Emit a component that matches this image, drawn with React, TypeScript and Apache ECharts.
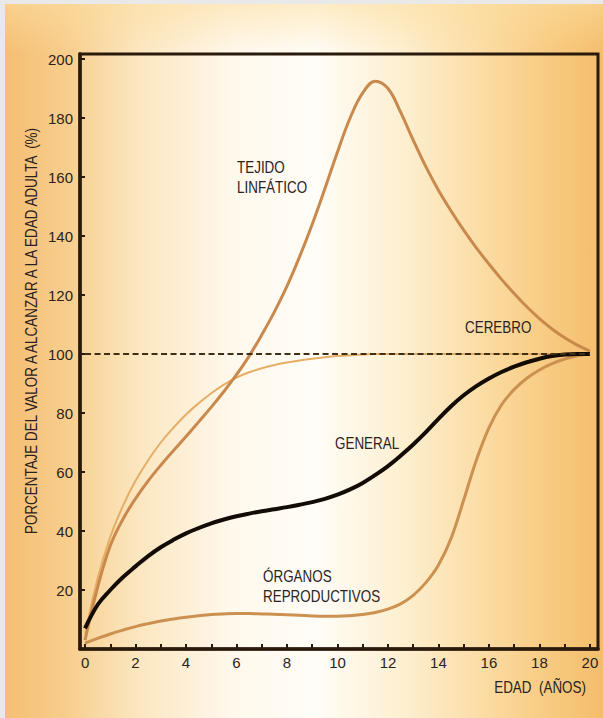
import React, { useEffect, useRef } from "react";
import * as echarts from "echarts";

// ---- data ----
const ages = [
  0, 0.5, 1, 1.5, 2, 2.5, 3, 3.5, 4, 4.5, 5, 5.5, 6, 6.5, 7, 7.5, 8, 8.5, 9, 9.5, 10,
  10.5, 11, 11.5, 12, 12.5, 13, 13.5, 14, 14.5, 15, 15.5, 16, 16.5, 17, 17.5, 18, 18.5, 19, 19.5, 20,
];
const xTickLabels = [0, 2, 4, 6, 8, 10, 12, 14, 16, 18, 20];
const xTickMarks = [0, 1, 2, 3, 4, 5, 6, 7, 8, 9, 10, 11, 12, 13, 14, 15, 16, 17, 18, 19, 20];
const yTickLabels = [20, 40, 60, 80, 100, 120, 140, 160, 180, 200];
const yTickMarks = [0, 20, 40, 60, 80, 100, 120, 140, 160, 180, 200];

const valLinfatico = [
  3, 21, 35, 44, 51, 57, 62.3, 67.2, 72, 77, 82, 87.3, 93, 99.3, 106.5, 114.3, 123, 133, 144, 156, 168.5,
  180, 188.5, 192.5, 190, 182, 172.5, 163.5, 155.5, 148.5, 142, 136, 130.5, 125.3, 120.5, 116, 112, 108.5, 105.5, 103, 101,
];
const valCerebro = [
  5, 24, 38, 48.5, 57, 64, 70, 75, 79.5, 83.3, 86.7, 89.6, 92, 93.8, 95.2, 96.3, 97.1, 97.8, 98.4, 98.9, 99.3,
  99.6, 99.8, 100, 100, 100, 100, 100, 100, 100, 100, 100, 100, 100, 100, 100, 100, 100, 100, 100, 100,
];
const valGeneral = [
  7, 15, 20, 24.3, 28, 31.5, 34.5, 37, 39.2, 41, 42.6, 43.9, 45, 45.9, 46.7, 47.4, 48.1, 48.9, 49.8, 50.9, 52.3,
  54.1, 56.3, 59, 62, 65.5, 69.3, 73.5, 78, 82.3, 86, 89.1, 91.7, 93.9, 95.7, 97.2, 98.4, 99.3, 99.8, 100, 100,
];
const valReproductivo = [
  2, 3.6, 5.1, 6.4, 7.6, 8.6, 9.5, 10.2, 10.8, 11.3, 11.7, 11.9, 12, 12, 11.9, 11.8, 11.6, 11.4, 11.2, 11.1, 11.1,
  11.3, 11.7, 12.4, 13.5, 15.3, 18.2, 22.5, 28.5, 37.5, 50.5, 64, 75, 82.8, 88, 91.8, 94.6, 96.7, 98.3, 99.4, 100,
];

const adultAges = [0, 20];
const adultVals = [100, 100];

const zip = (a: number[], b: number[]) => a.map((v, i) => [v, b[i]]);

const FONT = '"Liberation Sans", Arial, sans-serif';
const TXT = "#2a231d";
const AXIS = "#2a1a0c";
const SX = 0.84;

export default function App() {
  const ref = useRef<HTMLDivElement>(null);
  useEffect(() => {
    document.body.style.margin = "0";
    const chart = echarts.init(ref.current!, undefined, { renderer: "svg" });
    const label = (text: string, x: number, y: number, align = "left") => ({
      type: "text",
      x,
      y,
      scaleX: SX,
      style: {
        text,
        fill: TXT,
        font: `16px ${FONT}`,
        lineHeight: 20,
        textAlign: align,
        textVerticalAlign: "middle",
      },
    });
    chart.setOption({
      animation: false,
      backgroundColor: "transparent",
      grid: {
        left: 80,
        top: 54,
        width: 518,
        height: 595,
        show: true,
        borderColor: AXIS,
        borderWidth: 3,
        backgroundColor: "transparent",
      },
      xAxis: {
        type: "value",
        min: -0.2,
        max: 20.32,
        splitLine: { show: false },
        axisLine: { show: true, onZero: false, lineStyle: { color: AXIS, width: 3.5 } },
        axisTick: {
          show: true,
          inside: true,
          length: 5,
          customValues: xTickMarks,
          lineStyle: { color: AXIS, width: 2 },
        },
        axisLabel: {
          customValues: xTickLabels,
          fontSize: 15,
          color: TXT,
          fontFamily: FONT,
          margin: 6,
        },
      },
      yAxis: {
        type: "value",
        min: 0,
        max: 201.7,
        splitLine: { show: false },
        axisLine: { show: true, onZero: false, lineStyle: { color: AXIS, width: 3.5 } },
        axisTick: {
          show: true,
          inside: true,
          length: 5,
          customValues: yTickMarks,
          lineStyle: { color: AXIS, width: 2 },
        },
        axisLabel: {
          customValues: yTickLabels,
          fontSize: 15,
          color: TXT,
          fontFamily: FONT,
          margin: 7,
        },
      },
      series: [
        {
          name: "Adulto",
          type: "line",
          data: zip(adultAges, adultVals),
          showSymbol: false,
          lineStyle: { color: "#3f2f14", width: 2.2, type: [6, 3.5] },
          z: 5,
        },
        {
          name: "Cerebro",
          type: "line",
          data: zip(ages, valCerebro),
          smooth: 0.4,
          showSymbol: false,
          lineStyle: { color: "#e6ad66", width: 2 },
          z: 2,
        },
        {
          name: "Tejido linfático",
          type: "line",
          data: zip(ages, valLinfatico),
          smooth: 0.4,
          showSymbol: false,
          lineStyle: { color: "#c9894c", width: 3 },
          z: 3,
        },
        {
          name: "Órganos reproductivos",
          type: "line",
          data: zip(ages, valReproductivo),
          smooth: 0.4,
          showSymbol: false,
          lineStyle: { color: "#cc9150", width: 3 },
          z: 3,
        },
        {
          name: "General",
          type: "line",
          data: zip(ages, valGeneral),
          smooth: 0.4,
          showSymbol: false,
          lineStyle: { color: "#130b05", width: 4 },
          z: 4,
        },
      ],
      graphic: [
        {
          type: "text",
          x: 32,
          y: 331,
          rotation: Math.PI / 2,
          scaleX: SX,
          style: {
            text: "PORCENTAJE DEL VALOR A ALCANZAR A LA EDAD ADULTA  (%)",
            fill: TXT,
            font: `16px ${FONT}`,
            textAlign: "center",
            textVerticalAlign: "middle",
          },
        },
        label("EDAD  (AÑOS)", 586, 688, "right"),
        label("TEJIDO\nLINFÁTICO", 237, 178),
        label("CEREBRO", 465, 328),
        label("GENERAL", 335, 444),
        label("ÓRGANOS\nREPRODUCTIVOS", 263, 587),
      ],
    });
    return () => chart.dispose();
  }, []);

  return (
    <div style={{ position: "relative", width: 603, height: 718, background: "#e9e9e9", overflow: "hidden" }}>
      <div
        style={{
          position: "absolute",
          left: 5,
          top: 4,
          right: 0,
          bottom: 0,
          background:
            "linear-gradient(90deg, #f5be74 0%, #f7cd8c 10%, #fbe6bf 22%, #fff8ec 38%, #fffdf7 52%, #fdf0d2 66%, #fbdca4 80%, #f7c97e 92%, #f4bd6c 100%)",
        }}
      />
      <div
        style={{
          position: "absolute",
          left: 5,
          top: 4,
          right: 0,
          height: 50,
          background: "linear-gradient(180deg, rgba(252,222,160,0.55), rgba(252,222,160,0))",
        }}
      />
      <div
        ref={ref}
        style={{ position: "absolute", left: 0, top: 0, width: 603, height: 718 }}
      />
    </div>
  );
}
